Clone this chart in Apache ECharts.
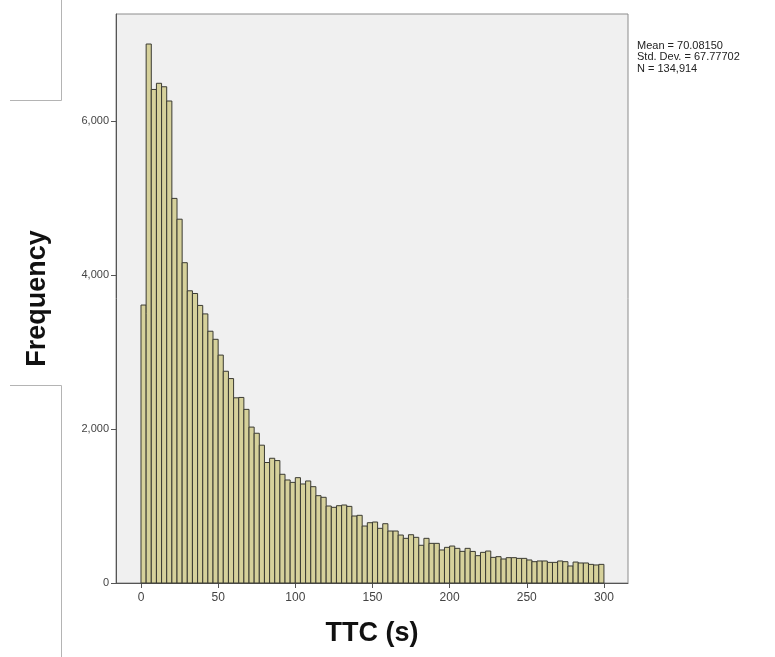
<!DOCTYPE html>
<html>
<head>
<meta charset="utf-8">
<style>
  html, body { margin: 0; padding: 0; background: #fff; }
  #chart { width: 775px; height: 657px; }
</style>
<script src="https://cdn.jsdelivr.net/npm/echarts@6/dist/echarts.min.js"></script>
</head>
<body>
<div id="chart"></div>
<script>
'use strict';

// TTC 直方图 (0 - 300 s, 90 bins)
var binLow = 0;
var binHigh = 300;
var counts = [
  3610, 7000, 6410, 6490, 6445, 6260, 4995, 4725, 4160, 3795,
  3760, 3605, 3495, 3270, 3165, 2960, 2750, 2655, 2405, 2410,
  2255, 2025, 1945, 1790, 1565, 1620, 1590, 1412, 1338, 1307,
  1368, 1286, 1325, 1251, 1134, 1113, 1000, 983, 1004, 1013,
  995, 870, 879, 740, 783, 792, 710, 770, 675, 675,
  623, 580, 627, 593, 490, 580, 515, 515, 429, 463,
  480, 450, 411, 450, 410, 355, 398, 415, 333, 342,
  312, 329, 329, 320, 320, 299, 277, 286, 286, 268,
  268, 286, 277, 221, 272, 260, 260, 242, 234, 242
];
var xTicks = [0, 50, 100, 150, 200, 250, 300];
var yTicks = [0, 2000, 4000, 6000];
var statsLines = ['Mean = 70.08150', 'Std. Dev. = 67.77702', 'N = 134,914'];

var binWidth = (binHigh - binLow) / counts.length;
var histData = counts.map(function (c, i) {
  return [binLow + i * binWidth, binLow + (i + 1) * binWidth, c];
});

var chart = echarts.init(document.getElementById('chart'));

var lineStyleGray = { stroke: '#b4b4b4', lineWidth: 1 };

var option = {
  animation: false,
  backgroundColor: '#ffffff',
  textStyle: { fontFamily: 'Liberation Sans, Arial, sans-serif' },
  grid: {
    left: 116, top: 14, width: 512, height: 569,
    show: true,
    backgroundColor: '#f0f0f0',
    borderColor: '#8c8c8c',
    borderWidth: 1
  },
  xAxis: {
    type: 'value',
    min: -16.2,
    max: 315.6,
    name: 'TTC (s)',
    nameLocation: 'middle',
    nameGap: 37,
    nameTextStyle: { fontSize: 27, fontWeight: 'bold', color: '#111' },
    splitLine: { show: false },
    axisLine: { show: true, onZero: false, lineStyle: { color: '#555', width: 1 } },
    axisTick: { show: true, length: 5, lineStyle: { color: '#555' }, customValues: xTicks },
    axisLabel: { color: '#444', fontSize: 12, margin: 9, customValues: xTicks }
  },
  yAxis: {
    type: 'value',
    min: 0,
    max: 7390,
    name: 'Frequency',
    nameLocation: 'middle',
    nameGap: 65,
    nameTextStyle: { fontSize: 27, fontWeight: 'bold', color: '#111' },
    splitLine: { show: false },
    axisLine: { show: true, onZero: false, lineStyle: { color: '#555', width: 1 } },
    axisTick: { show: true, length: 5, lineStyle: { color: '#555' }, customValues: yTicks },
    axisLabel: {
      color: '#444', fontSize: 11, margin: 7, customValues: yTicks,
      formatter: function (v) { return v.toLocaleString('en-US'); }
    }
  },
  series: [{
    type: 'custom',
    data: histData,
    encode: { x: [0, 1], y: 2 },
    renderItem: function (params, api) {
      var p0 = api.coord([api.value(0), api.value(2)]);
      var p1 = api.coord([api.value(1), 0]);
      return {
        type: 'rect',
        shape: { x: p0[0], y: p0[1], width: p1[0] - p0[0], height: p1[1] - p0[1] },
        style: { fill: '#d6d19b', stroke: '#3a3a32', lineWidth: 1 }
      };
    }
  }],
  graphic: [
    {
      type: 'text', left: 637, top: 40,
      style: {
        text: statsLines.join('\n'),
        fill: '#222', font: '11px "Liberation Sans", Arial, sans-serif',
        lineHeight: 11.5
      }
    },
    // 页面裁剪留下的边线
    { type: 'line', shape: { x1: 61.5, y1: 0, x2: 61.5, y2: 100.5 }, style: lineStyleGray },
    { type: 'line', shape: { x1: 10, y1: 100.5, x2: 61.5, y2: 100.5 }, style: lineStyleGray },
    { type: 'line', shape: { x1: 10, y1: 385.5, x2: 61.5, y2: 385.5 }, style: lineStyleGray },
    { type: 'line', shape: { x1: 61.5, y1: 385.5, x2: 61.5, y2: 657 }, style: lineStyleGray }
  ]
};

chart.setOption(option);
</script>
</body>
</html>
